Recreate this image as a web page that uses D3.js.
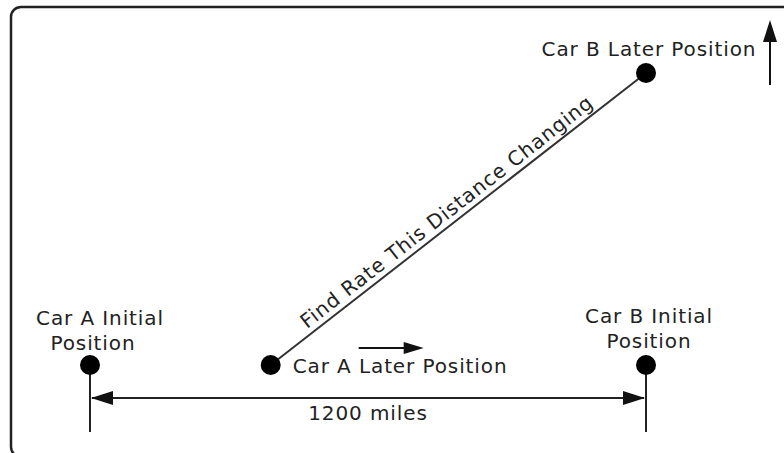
<!DOCTYPE html>
<html>
<head>
<meta charset="utf-8">
<script src="https://cdn.jsdelivr.net/npm/d3@7"></script>
<style>
  html, body { margin: 0; padding: 0; background: #fff; }
  svg { display: block; }
  text { font-family: "DejaVu Sans", Verdana, sans-serif; font-size: 20px; fill: #222; letter-spacing: 0.9px; }
</style>
</head>
<body>
<svg id="chart" width="784" height="453"></svg>
<script>
// ---- data (positions in miles) ----
const pointNames = ["Car A Initial", "Car A Later", "Car B Initial", "Car B Later"];
const pointX = [0, 390, 1200, 1200];
const pointY = [0, 0, 0, 632];
const distanceLabel = "1200 miles";
const diagonalLabel = "Find Rate This Distance Changing";
const labelLines = [["Car A Initial", "Position"], ["Car A Later Position"], ["Car B Initial", "Position"], ["Car B Later Position"]];

const W = 784, H = 453;
const svg = d3.select("#chart");

const x = d3.scaleLinear().domain([0, 1200]).range([90, 646]);
const y = d3.scaleLinear().domain([0, 632]).range([365, 73]);

const pts = pointNames.map((n, i) => ({ name: n, px: x(pointX[i]), py: y(pointY[i]) }));

// frame
svg.append("rect")
  .attr("x", 11).attr("y", 7).attr("width", 800).attr("height", 450)
  .attr("rx", 10).attr("ry", 10)
  .attr("fill", "none").attr("stroke", "#222").attr("stroke-width", 2.5);

function arrowHead(tipX, tipY, dirX, dirY, len, half) {
  const bx = tipX - dirX * len, by = tipY - dirY * len;
  const nx = -dirY, ny = dirX;
  return `M${tipX},${tipY}L${bx + nx * half},${by + ny * half}L${bx - nx * half},${by - ny * half}Z`;
}

const A0 = pts[0], A1 = pts[1], B0 = pts[2], B1 = pts[3];

// vertical reference lines
[A0, B0].forEach(p => {
  svg.append("line")
    .attr("x1", p.px).attr("x2", p.px)
    .attr("y1", p.py).attr("y2", p.py + 67)
    .attr("stroke", "#222").attr("stroke-width", 2);
});

// distance double arrow
const dy = A0.py + 33;
svg.append("line")
  .attr("x1", A0.px + 2).attr("x2", B0.px - 2)
  .attr("y1", dy).attr("y2", dy)
  .attr("stroke", "#222").attr("stroke-width", 2);
svg.append("path").attr("d", arrowHead(A0.px + 1, dy, -1, 0, 22, 7)).attr("fill", "#111");
svg.append("path").attr("d", arrowHead(B0.px - 1, dy, 1, 0, 22, 7)).attr("fill", "#111");
svg.append("text")
  .attr("x", (A0.px + B0.px) / 2).attr("y", dy + 22)
  .attr("text-anchor", "middle").text(distanceLabel);

// diagonal distance line
svg.append("line")
  .attr("x1", A1.px).attr("y1", A1.py).attr("x2", B1.px).attr("y2", B1.py)
  .attr("stroke", "#333").attr("stroke-width", 2);
const ang = Math.atan2(B1.py - A1.py, B1.px - A1.px) * 180 / Math.PI;
const len = Math.hypot(B1.px - A1.px, B1.py - A1.py);
svg.append("text")
  .attr("transform", `translate(${A1.px},${A1.py}) rotate(${ang})`)
  .attr("x", len * 0.49).attr("y", -6)
  .attr("text-anchor", "middle").text(diagonalLabel);

// motion arrows
const mY = A1.py - 17;
svg.append("line")
  .attr("x1", A1.px + 88).attr("x2", A1.px + 135)
  .attr("y1", mY).attr("y2", mY)
  .attr("stroke", "#111").attr("stroke-width", 2);
svg.append("path").attr("d", arrowHead(A1.px + 153, mY, 1, 0, 20, 6)).attr("fill", "#111");

const vX = B1.px + 124;
svg.append("line")
  .attr("x1", vX).attr("x2", vX)
  .attr("y1", B1.py + 12).attr("y2", B1.py - 33)
  .attr("stroke", "#111").attr("stroke-width", 2);
svg.append("path").attr("d", arrowHead(vX, B1.py - 53, 0, -1, 22, 7)).attr("fill", "#111");

// points
svg.selectAll("circle.pt").data(pts).join("circle")
  .attr("class", "pt")
  .attr("cx", d => d.px).attr("cy", d => d.py).attr("r", 10)
  .attr("fill", "#000");

// labels
const labelOffsets = [
  { dx: [10, 3], dy: [-40, -15], anchor: "middle" },
  { dx: [22], dy: [8], anchor: "start" },
  { dx: [3, 3], dy: [-42, -17], anchor: "middle" },
  { dx: [3], dy: [-17], anchor: "middle" }
];
pts.forEach((p, i) => {
  const o = labelOffsets[i];
  labelLines[i].forEach((ln, j) => {
    svg.append("text")
      .attr("x", p.px + o.dx[j]).attr("y", p.py + o.dy[j])
      .attr("text-anchor", o.anchor).text(ln);
  });
});
</script>
</body>
</html>
